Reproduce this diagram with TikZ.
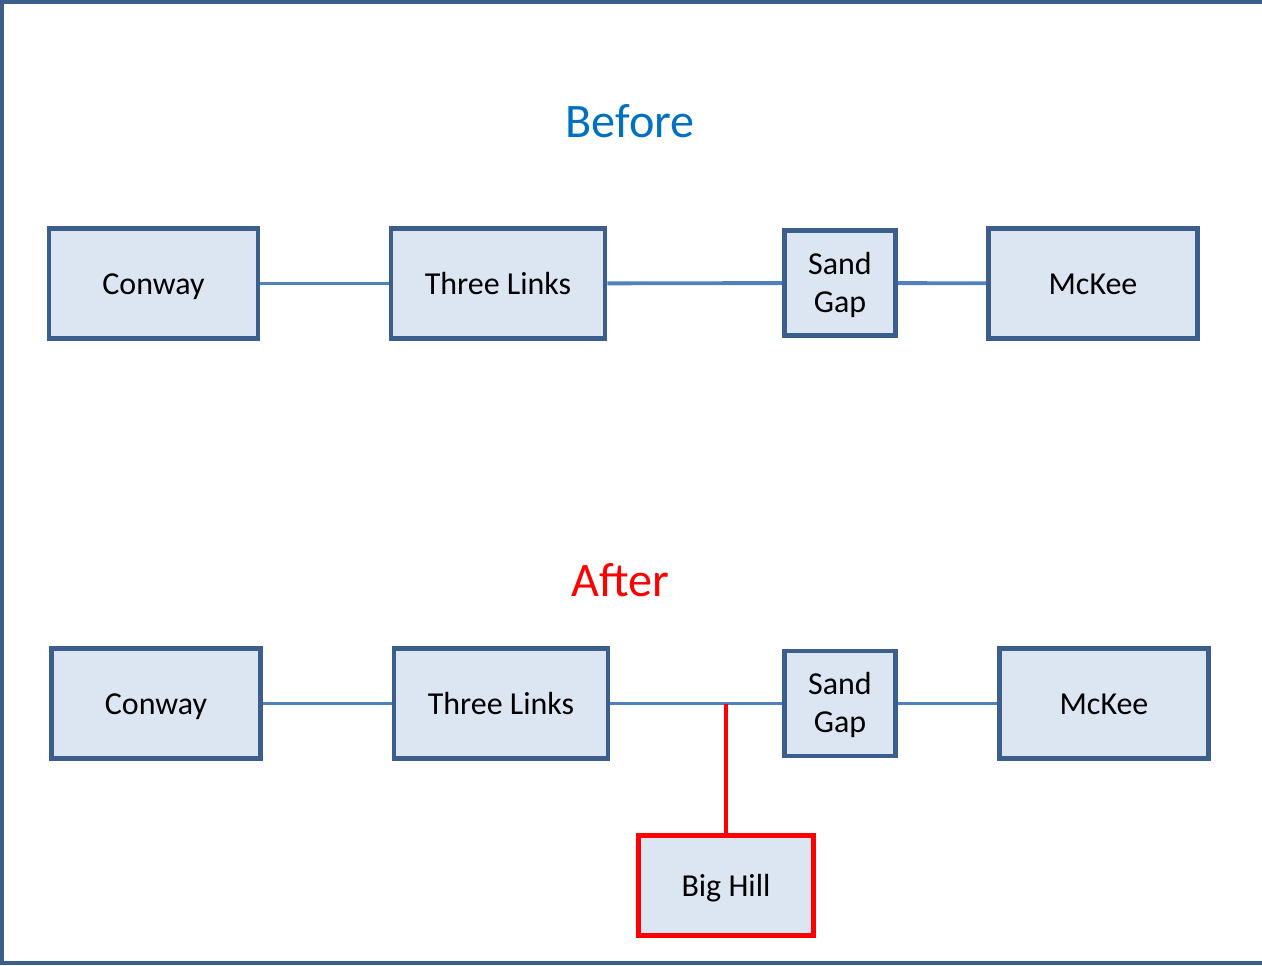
\documentclass[tikz,border=0pt]{standalone}
\usepackage{fontspec}
\setmainfont{Carlito}
\definecolor{boxdraw}{RGB}{59,94,140}
\definecolor{boxfill}{RGB}{220,230,242}
\definecolor{linkblue}{RGB}{79,129,189}
\definecolor{titleblue}{RGB}{0,112,192}
\tikzstyle{block}=[rectangle,
    line width=2.8pt,
    minimum height=2.2cm,
    minimum width=4.18cm,
    draw=boxdraw,
    fill=boxfill,
    font=\fontsize{18.2}{21.6}\selectfont,
    text height=17pt,
    text depth=4pt]
\tikzstyle{small}=[minimum width=2.22cm,minimum height=2.1cm,
    align=center,text height=37pt,text depth=3.8pt]
\tikzstyle{link}=[draw=linkblue,line width=2.2pt]
\tikzstyle{title}=[font=\fontsize{27.4}{32}\selectfont]
\begin{document}
\begin{tikzpicture}[x=0.02cm,y=-0.02cm]
                \useasboundingbox (0,0) rectangle (1262,965);
                \draw [draw=boxdraw,line width=2pt] (1262,2) -- (2,2) -- (2,963) -- (1262,963);
                \node (before) [title,text=titleblue] at (630,121) {Before};
                \node (cw1) [block] at (153.5,283.5) {Conway};
                \node (tl1) [block,minimum width=4.28cm] at (498,283.5) {Three Links};
                \node (sg1) [block,small] at (840,283) {Sand\\Gap};
                \node (mk1) [block] at (1093,283.5) {McKee};
                \draw [link] (cw1) -- (tl1);
                \draw [link] (tl1) -- (sg1);
                \draw [link] (sg1) -- (mk1);
                \node (after) [title,text=red] at (620,580) {After};
                \node (cw2) [block] at (156,703.5) {Conway};
                \node (tl2) [block,minimum width=4.28cm] at (501,703.5) {Three Links};
                \node (sg2) [block,small] at (840,703.5) {Sand\\Gap};
                \node (mk2) [block] at (1104,703.5) {McKee};
                \node (bh) [block,draw=red,minimum width=3.5cm,minimum height=2cm] at (726,885.5) {Big Hill};
                \draw [link] (cw2) -- (tl2);
                \draw [link] (tl2) -- (sg2);
                \draw [link] (sg2) -- (mk2);
                \draw [draw=red,line width=2.2pt] (bh.north) -- (bh.north |- tl2.east);
            \end{tikzpicture}
\end{document}
